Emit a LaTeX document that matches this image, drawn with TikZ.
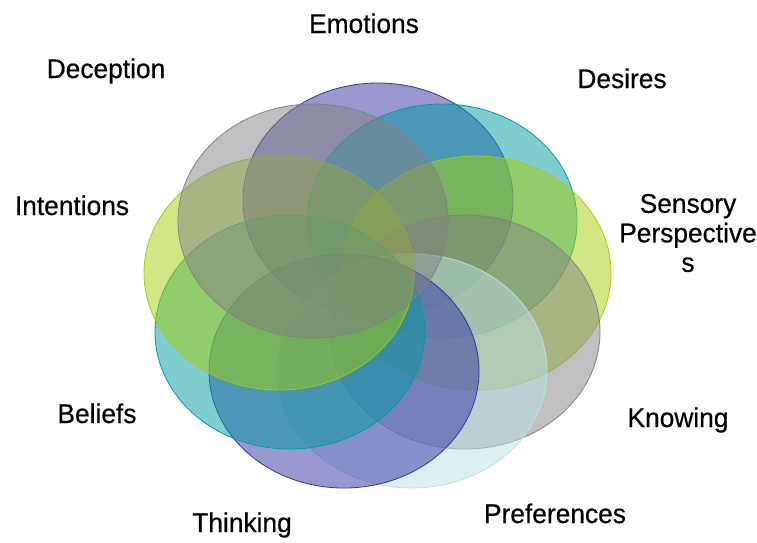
\documentclass[tikz,border=0pt]{standalone}
\usepackage{fontspec}
\setmainfont{Liberation Sans}[FakeStretch=0.975,FakeBold=0.5]
\definecolor{vennblue}{RGB}{50,50,160}
\definecolor{vennteal}{RGB}{0,155,160}
\definecolor{venngreen}{RGB}{165,205,10}
\definecolor{venngray}{RGB}{130,130,130}
\definecolor{vennice}{RGB}{185,225,230}

\begin{document}
\begin{tikzpicture}[x=1pt,y=-1pt,
    venn/.style={draw=#1,fill=#1,fill opacity=.5,line width=.8pt},
    lbl/.style={anchor=base,font=\fontsize{27}{29.5}\selectfont}]
\useasboundingbox (0,0) rectangle (757,542);
\path[venn=vennblue]  (378,200) ellipse [x radius=135pt,y radius=117pt];
\path[venn=vennteal]  (442,221) ellipse [x radius=135pt,y radius=117pt];
\path[venn=venngreen] (476,273) ellipse [x radius=135pt,y radius=117pt];
\path[venn=venngray]  (465,332) ellipse [x radius=135pt,y radius=117pt];
\path[venn=vennice]   (412,371) ellipse [x radius=135pt,y radius=117pt];
\path[venn=vennblue]  (344,371) ellipse [x radius=135pt,y radius=117pt];
\path[venn=vennteal]  (290,332) ellipse [x radius=135pt,y radius=117pt];
\path[venn=venngreen] (279,273) ellipse [x radius=135pt,y radius=117pt];
\path[venn=venngray]  (313,221) ellipse [x radius=135pt,y radius=117pt];
\path
    (364, 33) node [lbl] (emotions)    {Emotions}
    (622, 88) node [lbl] (desires)     {Desires}
    (688,233) node [lbl,anchor=center,align=center] (sensory) {Sensory\\Perspective\\s}
    (678,427) node [lbl] (knowing)     {Knowing}
    (555,523) node [lbl] (preferences) {Preferences}
    (242,532) node [lbl] (thinking)    {Thinking}
    ( 97,423) node [lbl] (beliefs)     {Beliefs}
    ( 72,215) node [lbl] (intentions)  {Intentions}
    (106, 78) node [lbl] (deception)   {Deception};
\end{tikzpicture}
\end{document}
